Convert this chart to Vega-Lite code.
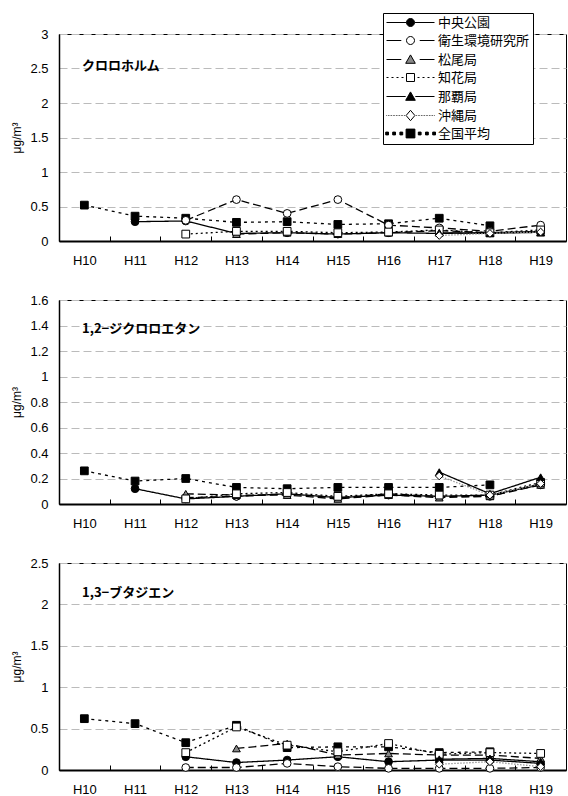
{
"$schema": "https://vega.github.io/schema/vega-lite/v6.json",
"padding": {"left": 10, "top": 12, "right": 0, "bottom": 0},
"datasets": {"d": [
{"panel":1,"year":"H10","series":"全国平均","value":0.52},
{"panel":1,"year":"H11","series":"全国平均","value":0.36},
{"panel":1,"year":"H12","series":"全国平均","value":0.33},
{"panel":1,"year":"H13","series":"全国平均","value":0.27},
{"panel":1,"year":"H14","series":"全国平均","value":0.28},
{"panel":1,"year":"H15","series":"全国平均","value":0.24},
{"panel":1,"year":"H16","series":"全国平均","value":0.25},
{"panel":1,"year":"H17","series":"全国平均","value":0.33},
{"panel":1,"year":"H18","series":"全国平均","value":0.22},
{"panel":1,"year":"H11","series":"中央公園","value":0.28},
{"panel":1,"year":"H12","series":"中央公園","value":0.29},
{"panel":1,"year":"H13","series":"中央公園","value":0.11},
{"panel":1,"year":"H14","series":"中央公園","value":0.12},
{"panel":1,"year":"H15","series":"中央公園","value":0.10},
{"panel":1,"year":"H16","series":"中央公園","value":0.12},
{"panel":1,"year":"H17","series":"中央公園","value":0.11},
{"panel":1,"year":"H18","series":"中央公園","value":0.12},
{"panel":1,"year":"H19","series":"中央公園","value":0.14},
{"panel":1,"year":"H12","series":"衛生環境研究所","value":0.30},
{"panel":1,"year":"H13","series":"衛生環境研究所","value":0.60},
{"panel":1,"year":"H14","series":"衛生環境研究所","value":0.40},
{"panel":1,"year":"H15","series":"衛生環境研究所","value":0.60},
{"panel":1,"year":"H16","series":"衛生環境研究所","value":0.23},
{"panel":1,"year":"H17","series":"衛生環境研究所","value":0.19},
{"panel":1,"year":"H18","series":"衛生環境研究所","value":0.14},
{"panel":1,"year":"H19","series":"衛生環境研究所","value":0.23},
{"panel":1,"year":"H13","series":"松尾局","value":0.10},
{"panel":1,"year":"H14","series":"松尾局","value":0.12},
{"panel":1,"year":"H15","series":"松尾局","value":0.10},
{"panel":1,"year":"H16","series":"松尾局","value":0.12},
{"panel":1,"year":"H17","series":"松尾局","value":0.15},
{"panel":1,"year":"H18","series":"松尾局","value":0.12},
{"panel":1,"year":"H19","series":"松尾局","value":0.12},
{"panel":1,"year":"H12","series":"知花局","value":0.10},
{"panel":1,"year":"H13","series":"知花局","value":0.14},
{"panel":1,"year":"H14","series":"知花局","value":0.14},
{"panel":1,"year":"H15","series":"知花局","value":0.12},
{"panel":1,"year":"H16","series":"知花局","value":0.13},
{"panel":1,"year":"H17","series":"知花局","value":0.16},
{"panel":1,"year":"H18","series":"知花局","value":0.12},
{"panel":1,"year":"H19","series":"知花局","value":0.16},
{"panel":1,"year":"H17","series":"那覇局","value":0.12},
{"panel":1,"year":"H18","series":"那覇局","value":0.11},
{"panel":1,"year":"H19","series":"那覇局","value":0.13},
{"panel":1,"year":"H17","series":"沖縄局","value":0.08},
{"panel":1,"year":"H18","series":"沖縄局","value":0.11},
{"panel":1,"year":"H19","series":"沖縄局","value":0.13},
{"panel":2,"year":"H10","series":"全国平均","value":0.26},
{"panel":2,"year":"H11","series":"全国平均","value":0.18},
{"panel":2,"year":"H12","series":"全国平均","value":0.20},
{"panel":2,"year":"H13","series":"全国平均","value":0.13},
{"panel":2,"year":"H14","series":"全国平均","value":0.12},
{"panel":2,"year":"H15","series":"全国平均","value":0.13},
{"panel":2,"year":"H16","series":"全国平均","value":0.13},
{"panel":2,"year":"H17","series":"全国平均","value":0.13},
{"panel":2,"year":"H18","series":"全国平均","value":0.15},
{"panel":2,"year":"H11","series":"中央公園","value":0.12},
{"panel":2,"year":"H12","series":"中央公園","value":0.04},
{"panel":2,"year":"H13","series":"中央公園","value":0.06},
{"panel":2,"year":"H14","series":"中央公園","value":0.08},
{"panel":2,"year":"H15","series":"中央公園","value":0.05},
{"panel":2,"year":"H16","series":"中央公園","value":0.07},
{"panel":2,"year":"H17","series":"中央公園","value":0.06},
{"panel":2,"year":"H18","series":"中央公園","value":0.07},
{"panel":2,"year":"H19","series":"中央公園","value":0.15},
{"panel":2,"year":"H12","series":"衛生環境研究所","value":0.05},
{"panel":2,"year":"H13","series":"衛生環境研究所","value":0.06},
{"panel":2,"year":"H14","series":"衛生環境研究所","value":0.08},
{"panel":2,"year":"H15","series":"衛生環境研究所","value":0.05},
{"panel":2,"year":"H16","series":"衛生環境研究所","value":0.08},
{"panel":2,"year":"H17","series":"衛生環境研究所","value":0.06},
{"panel":2,"year":"H18","series":"衛生環境研究所","value":0.06},
{"panel":2,"year":"H19","series":"衛生環境研究所","value":0.16},
{"panel":2,"year":"H12","series":"松尾局","value":0.08},
{"panel":2,"year":"H13","series":"松尾局","value":0.07},
{"panel":2,"year":"H14","series":"松尾局","value":0.07},
{"panel":2,"year":"H15","series":"松尾局","value":0.04},
{"panel":2,"year":"H16","series":"松尾局","value":0.07},
{"panel":2,"year":"H17","series":"松尾局","value":0.05},
{"panel":2,"year":"H18","series":"松尾局","value":0.06},
{"panel":2,"year":"H19","series":"松尾局","value":0.15},
{"panel":2,"year":"H12","series":"知花局","value":0.04},
{"panel":2,"year":"H13","series":"知花局","value":0.08},
{"panel":2,"year":"H14","series":"知花局","value":0.09},
{"panel":2,"year":"H15","series":"知花局","value":0.06},
{"panel":2,"year":"H16","series":"知花局","value":0.08},
{"panel":2,"year":"H17","series":"知花局","value":0.07},
{"panel":2,"year":"H18","series":"知花局","value":0.07},
{"panel":2,"year":"H19","series":"知花局","value":0.17},
{"panel":2,"year":"H17","series":"那覇局","value":0.25},
{"panel":2,"year":"H18","series":"那覇局","value":0.08},
{"panel":2,"year":"H19","series":"那覇局","value":0.21},
{"panel":2,"year":"H17","series":"沖縄局","value":0.22},
{"panel":2,"year":"H18","series":"沖縄局","value":0.07},
{"panel":2,"year":"H19","series":"沖縄局","value":0.16},
{"panel":3,"year":"H10","series":"全国平均","value":0.62},
{"panel":3,"year":"H11","series":"全国平均","value":0.56},
{"panel":3,"year":"H12","series":"全国平均","value":0.33},
{"panel":3,"year":"H13","series":"全国平均","value":0.54},
{"panel":3,"year":"H14","series":"全国平均","value":0.27},
{"panel":3,"year":"H15","series":"全国平均","value":0.28},
{"panel":3,"year":"H16","series":"全国平均","value":0.28},
{"panel":3,"year":"H17","series":"全国平均","value":0.21},
{"panel":3,"year":"H18","series":"全国平均","value":0.22},
{"panel":3,"year":"H12","series":"中央公園","value":0.16},
{"panel":3,"year":"H13","series":"中央公園","value":0.09},
{"panel":3,"year":"H14","series":"中央公園","value":0.12},
{"panel":3,"year":"H15","series":"中央公園","value":0.16},
{"panel":3,"year":"H16","series":"中央公園","value":0.10},
{"panel":3,"year":"H17","series":"中央公園","value":0.12},
{"panel":3,"year":"H18","series":"中央公園","value":0.12},
{"panel":3,"year":"H19","series":"中央公園","value":0.08},
{"panel":3,"year":"H12","series":"衛生環境研究所","value":0.03},
{"panel":3,"year":"H13","series":"衛生環境研究所","value":0.03},
{"panel":3,"year":"H14","series":"衛生環境研究所","value":0.08},
{"panel":3,"year":"H15","series":"衛生環境研究所","value":0.04},
{"panel":3,"year":"H16","series":"衛生環境研究所","value":0.02},
{"panel":3,"year":"H17","series":"衛生環境研究所","value":0.02},
{"panel":3,"year":"H18","series":"衛生環境研究所","value":0.02},
{"panel":3,"year":"H19","series":"衛生環境研究所","value":0.03},
{"panel":3,"year":"H13","series":"松尾局","value":0.26},
{"panel":3,"year":"H14","series":"松尾局","value":0.32},
{"panel":3,"year":"H15","series":"松尾局","value":0.18},
{"panel":3,"year":"H16","series":"松尾局","value":0.20},
{"panel":3,"year":"H17","series":"松尾局","value":0.18},
{"panel":3,"year":"H18","series":"松尾局","value":0.18},
{"panel":3,"year":"H19","series":"松尾局","value":0.14},
{"panel":3,"year":"H12","series":"知花局","value":0.21},
{"panel":3,"year":"H13","series":"知花局","value":0.52},
{"panel":3,"year":"H14","series":"知花局","value":0.30},
{"panel":3,"year":"H15","series":"知花局","value":0.22},
{"panel":3,"year":"H16","series":"知花局","value":0.32},
{"panel":3,"year":"H17","series":"知花局","value":0.19},
{"panel":3,"year":"H18","series":"知花局","value":0.21},
{"panel":3,"year":"H19","series":"知花局","value":0.20},
{"panel":3,"year":"H17","series":"那覇局","value":0.13},
{"panel":3,"year":"H18","series":"那覇局","value":0.14},
{"panel":3,"year":"H19","series":"那覇局","value":0.10},
{"panel":3,"year":"H17","series":"沖縄局","value":0.07},
{"panel":3,"year":"H18","series":"沖縄局","value":0.10},
{"panel":3,"year":"H19","series":"沖縄局","value":0.04}
]},
"bounds": "flush",
"spacing": 59,
"vconcat": [
{
 "width": 507, "height": 207,
 "data": {"name": "d"},
 "transform": [{"filter": "datum.panel === 1"}],
 "title": {"text": "クロロホルム", "offset": -60, "dx": 23, "frame": "group"},
 "encoding": {
  "x": {"field": "year", "type": "nominal", "title": null, "scale": {"type": "band", "domain": ["H10","H11","H12","H13","H14","H15","H16","H17","H18","H19"], "paddingInner": 0, "paddingOuter": 0}},
  "y": {"field": "value", "type": "quantitative", "title": "μg/m³", "scale": {"domain": [0, 3]}, "axis": {"values": [0,0.5,1,1.5,2,2.5,3], "format": "~g"}}
 },
 "layer": [
  {"mark": {"type": "line"},
   "encoding": {
    "stroke": {"field": "series", "legend": null, "scale": {"domain": ["中央公園","衛生環境研究所","松尾局","知花局","那覇局","沖縄局","全国平均"], "range": ["#000","#000","#000","#000","#000","#999","#000"]}},
    "strokeDash": {"field": "series", "legend": null, "scale": {"domain": ["中央公園","衛生環境研究所","松尾局","知花局","那覇局","沖縄局","全国平均"], "range": [[1,0],[8,4],[8,4],[2,3],[1,0],[1.5,1.5],[3,4]]}},
    "strokeWidth": {"field": "series", "legend": null, "scale": {"domain": ["中央公園","衛生環境研究所","松尾局","知花局","那覇局","沖縄局","全国平均"], "range": [1.3,1.3,1.3,1.3,1.3,1,2.5]}}
   }},
  {"mark": {"type": "point", "filled": true, "stroke": "black", "strokeWidth": 1, "size": 60, "opacity": 1},
   "encoding": {
    "shape": {"field": "series", "legend": null, "scale": {"domain": ["中央公園","衛生環境研究所","松尾局","知花局","那覇局","沖縄局","全国平均"], "range": ["circle","circle","triangle-up","square","triangle-up","diamond","square"]}},
    "fill": {"field": "series", "legend": null, "scale": {"domain": ["中央公園","衛生環境研究所","松尾局","知花局","那覇局","沖縄局","全国平均"], "range": ["#000","#fff","#888","#fff","#000","#fff","#000"]}}
   }},
  {"transform": [{"filter": "false"}],
   "mark": {"type": "point", "filled": true, "strokeWidth": 1, "opacity": 1},
   "encoding": {
    "shape": {"field": "series",
      "scale": {"domain": ["中央公園","衛生環境研究所","松尾局","知花局","那覇局","沖縄局","全国平均"],
        "range": [
         "M-6,0H-1M1,0H6M-1,0A1,1,0,1,0,1,0A1,1,0,1,0,-1,0Z",
         "M-6,0H-2.3M2.3,0H6M-1,0A1,1,0,1,0,1,0A1,1,0,1,0,-1,0Z",
         "M-6,0H-2.3M2.3,0H6M0,-1.15L1.2,0.95L-1.2,0.95Z",
         "M-6,0H-5.5M-4.75,0H-4.25M-3.5,0H-3M-2.25,0H-1.75M1.75,0H2.25M3,0H3.5M4.25,0H4.75M5.5,0H6M-1,-1H1V1H-1Z",
         "M-6,0H-1.2M1.2,0H6M0,-1.15L1.2,0.95L-1.2,0.95Z",
         "M-6,0h0.15M-5.6,0h0.15M-5.2,0h0.15M-4.8,0h0.15M-4.4,0h0.15M-4,0h0.15M-3.6,0h0.15M-3.2,0h0.15M-2.8,0h0.15M-2.4,0h0.15M-2,0h0.15M-1.6,0h0.15M1.45,0h0.15M1.85,0h0.15M2.25,0h0.15M2.65,0h0.15M3.05,0h0.15M3.45,0h0.15M3.85,0h0.15M4.25,0h0.15M4.65,0h0.15M5.05,0h0.15M5.45,0h0.15M5.85,0h0.15M0,-1.3L1.1,0L0,1.3L-1.1,0Z",
         "M-6.2,-0.35h0.7v0.7h-0.7ZM-4.45,-0.35h0.7v0.7h-0.7ZM-2.65,-0.35h0.7v0.7h-0.7ZM1.95,-0.35h0.7v0.7h-0.7ZM3.75,-0.35h0.7v0.7h-0.7ZM5.55,-0.35h0.7v0.7h-0.7ZM-1.1,-1.1H1.1V1.1H-1.1Z"
        ]},
      "legend": {"title": null, "orient": "none", "legendX": 324, "legendY": -21, "fillColor": "white", "strokeColor": "black", "padding": 3, "rowPadding": 4, "labelFont": "Noto Sans CJK JP", "labelFontSize": 13, "labelColor": "black", "symbolOffset": 18, "labelOffset": 21, "symbolSize": 64, "symbolStrokeWidth": 1}},
    "fill": {"field": "series", "scale": {"domain": ["中央公園","衛生環境研究所","松尾局","知花局","那覇局","沖縄局","全国平均"], "range": ["#000","#fff","#888","#fff","#000","#fff","#000"]}},
    "stroke": {"field": "series", "scale": {"domain": ["中央公園","衛生環境研究所","松尾局","知花局","那覇局","沖縄局","全国平均"], "range": ["#000","#000","#000","#000","#000","#000","#000"]}}
   }}
 ],
 "resolve": {"scale": {"shape": "independent", "fill": "independent", "stroke": "independent"}}
},
{
 "width": 507, "height": 204,
 "data": {"name": "d"},
 "transform": [{"filter": "datum.panel === 2"}],
 "title": {"text": "1,2−ジクロロエタン", "offset": -42, "dx": 23, "frame": "group"},
 "encoding": {
  "x": {"field": "year", "type": "nominal", "title": null, "scale": {"type": "band", "domain": ["H10","H11","H12","H13","H14","H15","H16","H17","H18","H19"], "paddingInner": 0, "paddingOuter": 0}},
  "y": {"field": "value", "type": "quantitative", "title": "μg/m³", "scale": {"domain": [0, 1.6]}, "axis": {"values": [0,0.2,0.4,0.6,0.8,1,1.2,1.4,1.6], "format": "~g"}}
 },
 "layer": [
  {"mark": {"type": "line"},
   "encoding": {
    "stroke": {"field": "series", "legend": null, "scale": {"domain": ["中央公園","衛生環境研究所","松尾局","知花局","那覇局","沖縄局","全国平均"], "range": ["#000","#000","#000","#000","#000","#999","#000"]}},
    "strokeDash": {"field": "series", "legend": null, "scale": {"domain": ["中央公園","衛生環境研究所","松尾局","知花局","那覇局","沖縄局","全国平均"], "range": [[1,0],[8,4],[8,4],[2,3],[1,0],[1.5,1.5],[3,4]]}},
    "strokeWidth": {"field": "series", "legend": null, "scale": {"domain": ["中央公園","衛生環境研究所","松尾局","知花局","那覇局","沖縄局","全国平均"], "range": [1.3,1.3,1.3,1.3,1.3,1,2.5]}}
   }},
  {"mark": {"type": "point", "filled": true, "stroke": "black", "strokeWidth": 1, "size": 60, "opacity": 1},
   "encoding": {
    "shape": {"field": "series", "legend": null, "scale": {"domain": ["中央公園","衛生環境研究所","松尾局","知花局","那覇局","沖縄局","全国平均"], "range": ["circle","circle","triangle-up","square","triangle-up","diamond","square"]}},
    "fill": {"field": "series", "legend": null, "scale": {"domain": ["中央公園","衛生環境研究所","松尾局","知花局","那覇局","沖縄局","全国平均"], "range": ["#000","#fff","#888","#fff","#000","#fff","#000"]}}
   }}
 ]
},
{
 "width": 507, "height": 207,
 "data": {"name": "d"},
 "transform": [{"filter": "datum.panel === 3"}],
 "title": {"text": "1,3−ブタジエン", "offset": -43, "dx": 23, "frame": "group"},
 "encoding": {
  "x": {"field": "year", "type": "nominal", "title": null, "scale": {"type": "band", "domain": ["H10","H11","H12","H13","H14","H15","H16","H17","H18","H19"], "paddingInner": 0, "paddingOuter": 0}},
  "y": {"field": "value", "type": "quantitative", "title": "μg/m³", "scale": {"domain": [0, 2.5]}, "axis": {"values": [0,0.5,1,1.5,2,2.5], "format": "~g"}}
 },
 "layer": [
  {"mark": {"type": "line"},
   "encoding": {
    "stroke": {"field": "series", "legend": null, "scale": {"domain": ["中央公園","衛生環境研究所","松尾局","知花局","那覇局","沖縄局","全国平均"], "range": ["#000","#000","#000","#000","#000","#999","#000"]}},
    "strokeDash": {"field": "series", "legend": null, "scale": {"domain": ["中央公園","衛生環境研究所","松尾局","知花局","那覇局","沖縄局","全国平均"], "range": [[1,0],[8,4],[8,4],[2,3],[1,0],[1.5,1.5],[3,4]]}},
    "strokeWidth": {"field": "series", "legend": null, "scale": {"domain": ["中央公園","衛生環境研究所","松尾局","知花局","那覇局","沖縄局","全国平均"], "range": [1.3,1.3,1.3,1.3,1.3,1,2.5]}}
   }},
  {"mark": {"type": "point", "filled": true, "stroke": "black", "strokeWidth": 1, "size": 60, "opacity": 1},
   "encoding": {
    "shape": {"field": "series", "legend": null, "scale": {"domain": ["中央公園","衛生環境研究所","松尾局","知花局","那覇局","沖縄局","全国平均"], "range": ["circle","circle","triangle-up","square","triangle-up","diamond","square"]}},
    "fill": {"field": "series", "legend": null, "scale": {"domain": ["中央公園","衛生環境研究所","松尾局","知花局","那覇局","沖縄局","全国平均"], "range": ["#000","#fff","#888","#fff","#000","#fff","#000"]}}
   }}
 ]
}
],
"config": {
 "view": {"stroke": "black", "strokeWidth": 1},
 "font": "Liberation Sans",
 "title": {"font": "Noto Sans CJK JP", "fontSize": 13, "fontWeight": "bold", "anchor": "start", "color": "black"},
 "axis": {"labelFont": "Liberation Sans", "labelFontSize": 13, "labelColor": "black", "titleFont": "Liberation Sans", "titleFontWeight": "normal", "titleFontSize": 12, "titleColor": "black", "domainColor": "black"},
 "axisX": {"tickBand": "extent", "tickSize": -5, "tickColor": "black", "domainWidth": 2, "labelAngle": 0, "labelPadding": 18, "grid": false},
 "axisY": {"ticks": false, "grid": true, "gridDash": [8, 4], "gridColor": "#bbb", "labelPadding": 11, "titlePadding": 6, "domainWidth": 1.5}
}
}
